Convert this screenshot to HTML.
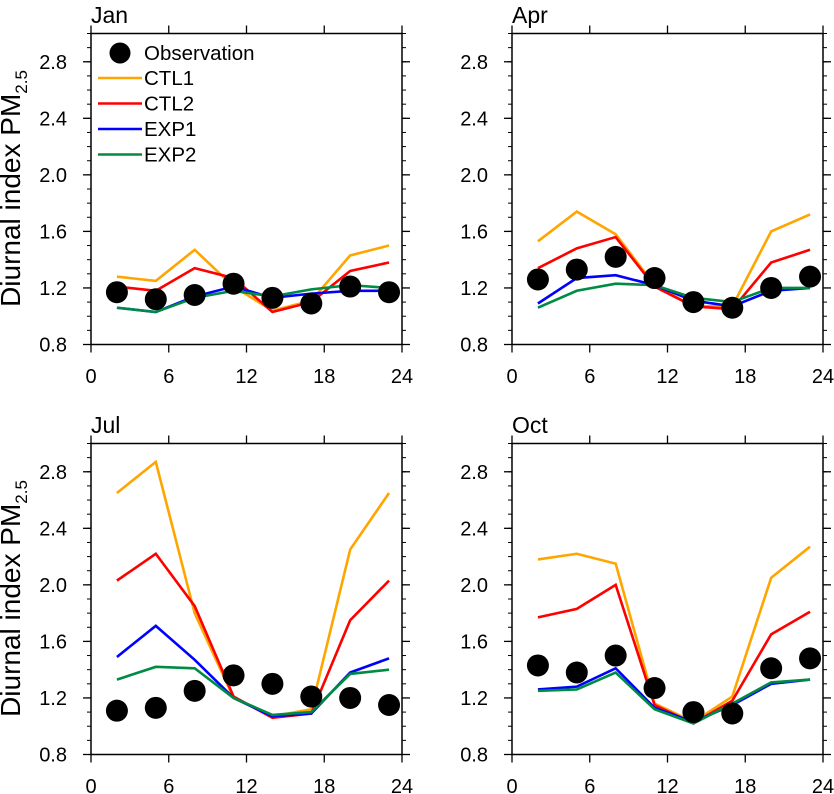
<!DOCTYPE html>
<html><head><meta charset="utf-8"><style>
html,body{margin:0;padding:0;background:#fff;}
svg{display:block;font-family:"Liberation Sans",sans-serif;}
</style></head><body>
<svg id="chart" width="834" height="794" viewBox="0 0 834 794" xmlns="http://www.w3.org/2000/svg"></svg>
<script>
const hours = [2,5,8,11,14,17,20,23];
const months = ["Jan","Apr","Jul","Oct"];
const xTicks = [0,6,12,18,24];
const yTicks = [0.8,1.2,1.6,2.0,2.4,2.8];
const seriesNames = ["CTL1","CTL2","EXP1","EXP2"];
const seriesColors = ["#ffa500","#ff0000","#0000ff","#008b45"];
const janCTL1 = [1.28,1.25,1.47,1.21,1.04,1.11,1.43,1.50];
const janCTL2 = [1.21,1.18,1.34,1.27,1.03,1.10,1.32,1.38];
const janEXP1 = [1.06,1.03,1.14,1.21,1.13,1.16,1.18,1.18];
const janEXP2 = [1.06,1.03,1.13,1.18,1.14,1.19,1.22,1.20];
const janObs  = [1.17,1.12,1.15,1.23,1.13,1.09,1.21,1.17];
const aprCTL1 = [1.53,1.74,1.58,1.22,1.07,1.07,1.60,1.72];
const aprCTL2 = [1.34,1.48,1.56,1.21,1.07,1.05,1.38,1.47];
const aprEXP1 = [1.09,1.27,1.29,1.22,1.11,1.07,1.18,1.20];
const aprEXP2 = [1.06,1.18,1.23,1.22,1.13,1.10,1.20,1.20];
const aprObs  = [1.26,1.33,1.42,1.27,1.10,1.06,1.20,1.28];
const julCTL1 = [2.65,2.87,1.80,1.20,1.07,1.12,2.25,2.65];
const julCTL2 = [2.03,2.22,1.85,1.21,1.06,1.09,1.75,2.03];
const julEXP1 = [1.49,1.71,1.47,1.20,1.07,1.09,1.38,1.48];
const julEXP2 = [1.33,1.42,1.41,1.20,1.08,1.10,1.37,1.40];
const julObs  = [1.11,1.13,1.25,1.36,1.30,1.21,1.20,1.15];
const octCTL1 = [2.18,2.22,2.15,1.16,1.03,1.21,2.05,2.27];
const octCTL2 = [1.77,1.83,2.00,1.15,1.02,1.18,1.65,1.81];
const octEXP1 = [1.26,1.28,1.41,1.13,1.03,1.15,1.30,1.33];
const octEXP2 = [1.25,1.26,1.38,1.12,1.02,1.16,1.31,1.33];
const octObs  = [1.43,1.38,1.50,1.27,1.10,1.09,1.41,1.48];
const panelSeries = [[janCTL1,janCTL2,janEXP1,janEXP2],[aprCTL1,aprCTL2,aprEXP1,aprEXP2],[julCTL1,julCTL2,julEXP1,julEXP2],[octCTL1,octCTL2,octEXP1,octEXP2]];
const panelObs = [janObs,aprObs,julObs,octObs];

const NS="http://www.w3.org/2000/svg";
const svg=document.getElementById('chart');
function mk(tag,attrs,parent){const e=document.createElementNS(NS,tag);for(const k in attrs)e.setAttribute(k,attrs[k]);(parent||svg).appendChild(e);return e;}
const origins=[[91,33.5],[512,33.5],[91,443.5],[512,443.5]];
const W=311,H=311,YMIN=0.8,YMAX=3.0;
months.forEach((m,p)=>{
  const [ox,oy]=origins[p];
  const sx=h=>ox+h/24*W;
  const sy=v=>oy+H-(v-YMIN)/(YMAX-YMIN)*H;
  const g=mk('g',{});
  
  
  const t=mk('text',{x:ox,y:oy-10.5,'font-size':23},g);t.textContent=m;
  
  
  for(let v=0.8;v<=3.001;v+=0.1){
    const y=sy(v);
    mk('line',{x1:ox-4,x2:ox,y1:y,y2:y,stroke:'#000','stroke-width':1},g);
    mk('line',{x1:ox+W,x2:ox+W+4,y1:y,y2:y,stroke:'#000','stroke-width':1},g);
  }
  yTicks.forEach(v=>{
    const y=sy(v);
    mk('line',{x1:ox-8,x2:ox,y1:y,y2:y,stroke:'#000','stroke-width':1.3},g);
    mk('line',{x1:ox+W,x2:ox+W+8,y1:y,y2:y,stroke:'#000','stroke-width':1.3},g);
    const l=mk('text',{x:ox-24,y:y+7,'font-size':20,'text-anchor':'end'},g);l.textContent=v.toFixed(1);
    
    
  });
  xTicks.forEach(h=>{
    const x=sx(h);
    mk('line',{x1:x,x2:x,y1:oy+H,y2:oy+H+8,stroke:'#000','stroke-width':1.3},g);
    mk('line',{x1:x,x2:x,y1:oy-8,y2:oy,stroke:'#000','stroke-width':1.3},g);
    const l=mk('text',{x:x,y:oy+H+38.5,'font-size':20,'text-anchor':'middle'},g);l.textContent=h;
    
    
  });
  mk('rect',{x:ox,y:oy,width:W,height:H,fill:'none',stroke:'#000','stroke-width':1.5},g);
  panelSeries[p].forEach((vals,i)=>{
    const pts=hours.map((h,k)=>sx(h)+','+sy(vals[k])).join(' ');
    const pl=mk('polyline',{points:pts,fill:'none',stroke:seriesColors[i],'stroke-width':2.6},g);
    
    
  });
  panelObs[p].forEach((v,k)=>{
    const c=mk('circle',{cx:sx(hours[k]),cy:sy(v),r:11,fill:'#000'},g);
    
    
  });
  if(p%2===0){
    const yt=mk('text',{transform:`translate(${ox-71},${oy+155}) rotate(-90)`,'font-size':28,'text-anchor':'middle'},g);
    yt.innerHTML='Diurnal index PM<tspan font-size="17" dy="7">2.5</tspan>';
    
    
  }
});
const lg=mk('g',{});


mk('circle',{cx:120,cy:53,r:10.5,fill:'#000'},lg);
let lt=mk('text',{x:144,y:60,'font-size':20.5},lg);lt.textContent='Observation';


seriesNames.forEach((n,i)=>{
  const y=78+i*25.5;
  mk('line',{x1:98,x2:142,y1:y,y2:y,stroke:seriesColors[i],'stroke-width':2.6},lg);
  const t=mk('text',{x:144,y:y+7,'font-size':20.5},lg);t.textContent=n;
  
  
});
</script>
</body></html>
